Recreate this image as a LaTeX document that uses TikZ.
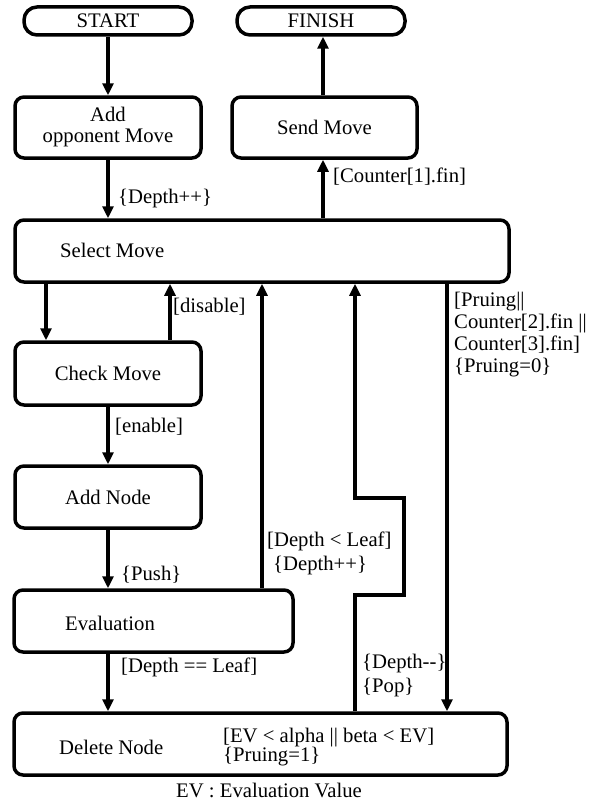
\documentclass[tikz,border=0pt]{standalone}
\usepackage{fontspec}
\setmainfont{Liberation Serif}
\usetikzlibrary{arrows.meta}
\begin{document}
\begin{tikzpicture}[x=1pt,y=-1pt,
  font=\fontsize{20.7}{23}\selectfont,
  box/.style={draw, line width=3.5pt, rounded corners=9pt, inner sep=0pt, align=center},
  term/.style={draw, line width=3.5pt, rounded corners=13pt, inner sep=0pt, minimum width=168pt, minimum height=28pt},
  arr/.style={line width=3.3pt, -{Triangle[length=12pt,width=11pt]}},
  lbl/.style={anchor=west, inner sep=0pt}]
\useasboundingbox (0,0) rectangle (597,800);

% column coordinates
\coordinate (c46) at (46,0);
\coordinate (c108) at (108,0);
\coordinate (c170) at (170,0);
\coordinate (c262) at (262,0);
\coordinate (c323) at (323,0);
\coordinate (c355) at (355,0);
\coordinate (c447) at (447,0);
\coordinate (z1) at (404,595);
\coordinate (z2) at (404,498);

% boxes
\node[term] (start) at (108,21) {START};
\node[term] (finish) at (321,21) {FINISH};
\node[box, minimum width=186pt, minimum height=61pt] (addopp) at (108,127.5) {Add\\[-2pt]opponent Move};
\node[box, minimum width=185pt, minimum height=61pt] (send) at (324.5,127.5) {Send Move};
\node[box, minimum width=494pt, minimum height=62pt] (sel) at (262,251) {};
\node[box, minimum width=186pt, minimum height=63pt] (chk) at (108,373.5) {Check Move};
\node[box, minimum width=186pt, minimum height=62pt] (addn) at (108,497) {Add Node};
\node[box, minimum width=279pt, minimum height=62pt] (eval) at (153.5,621) {};
\node[box, minimum width=493pt, minimum height=62pt] (del) at (260.5,744) {};

% texts inside left-aligned boxes
\node[lbl] (seltxt) at (60,250) {Select Move};
\node[lbl] (evaltxt) at (65,623) {Evaluation};
\node[lbl] (deltxt) at (59,747) {Delete Node};
\node[lbl] (delc1) at (223,738) {[EV < alpha || beta < EV]};
\node[lbl] (delc2) at (223,757) {\{Pruing=1\}};

% arrows
\draw[arr] (start.south -| c108) -- (addopp.north -| c108);
\draw[arr] (addopp.south -| c108) -- (sel.north -| c108);
\draw[arr] (sel.north -| c323) -- (send.south -| c323);
\draw[arr] (send.north -| c323) -- (finish.south -| c323);
\draw[arr] (sel.south -| c46) -- (chk.north -| c46);
\draw[arr] (chk.north -| c170) -- (sel.south -| c170);
\draw[arr] (chk.south -| c108) -- (addn.north -| c108);
\draw[arr] (addn.south -| c108) -- (eval.north -| c108);
\draw[arr] (eval.north -| c262) -- (sel.south -| c262);
\draw[arr] (eval.south -| c108) -- (del.north -| c108);
\draw[arr] (del.north -| c355) |- (z1) -- (z2) -| (sel.south -| c355);
\draw[arr] (sel.south -| c447) -- (del.north -| c447);

% labels
\node[lbl] (l1) at (118,199) {\{Depth++\}};
\node[lbl] (l2) at (333,177) {[Counter[1].fin]};
\node[lbl] (l3) at (173,307) {[disable]};
\node[lbl] (l4) at (115,427) {[enable]};
\node[lbl] (l5) at (121,575) {\{Push\}};
\node[lbl] (l6) at (121,667) {[Depth == Leaf]};
\node[lbl] (l7) at (267,541) {[Depth < Leaf]};
\node[lbl] (l8) at (273,566) {\{Depth++\}};
\node[lbl] (l9) at (362,664) {\{Depth-{}-\}};
\node[lbl] (l10) at (362,688) {\{Pop\}};
\node[lbl] (p1) at (454,302) {[Pruing||};
\node[lbl] (p2) at (454,323) {Counter[2].fin ||};
\node[lbl] (p3) at (454,345) {Counter[3].fin]};
\node[lbl] (p4) at (454,368) {\{Pruing=0\}};

\node[inner sep=0pt] (cap) at (269,790) {EV : Evaluation Value};
\end{tikzpicture}
\end{document}
